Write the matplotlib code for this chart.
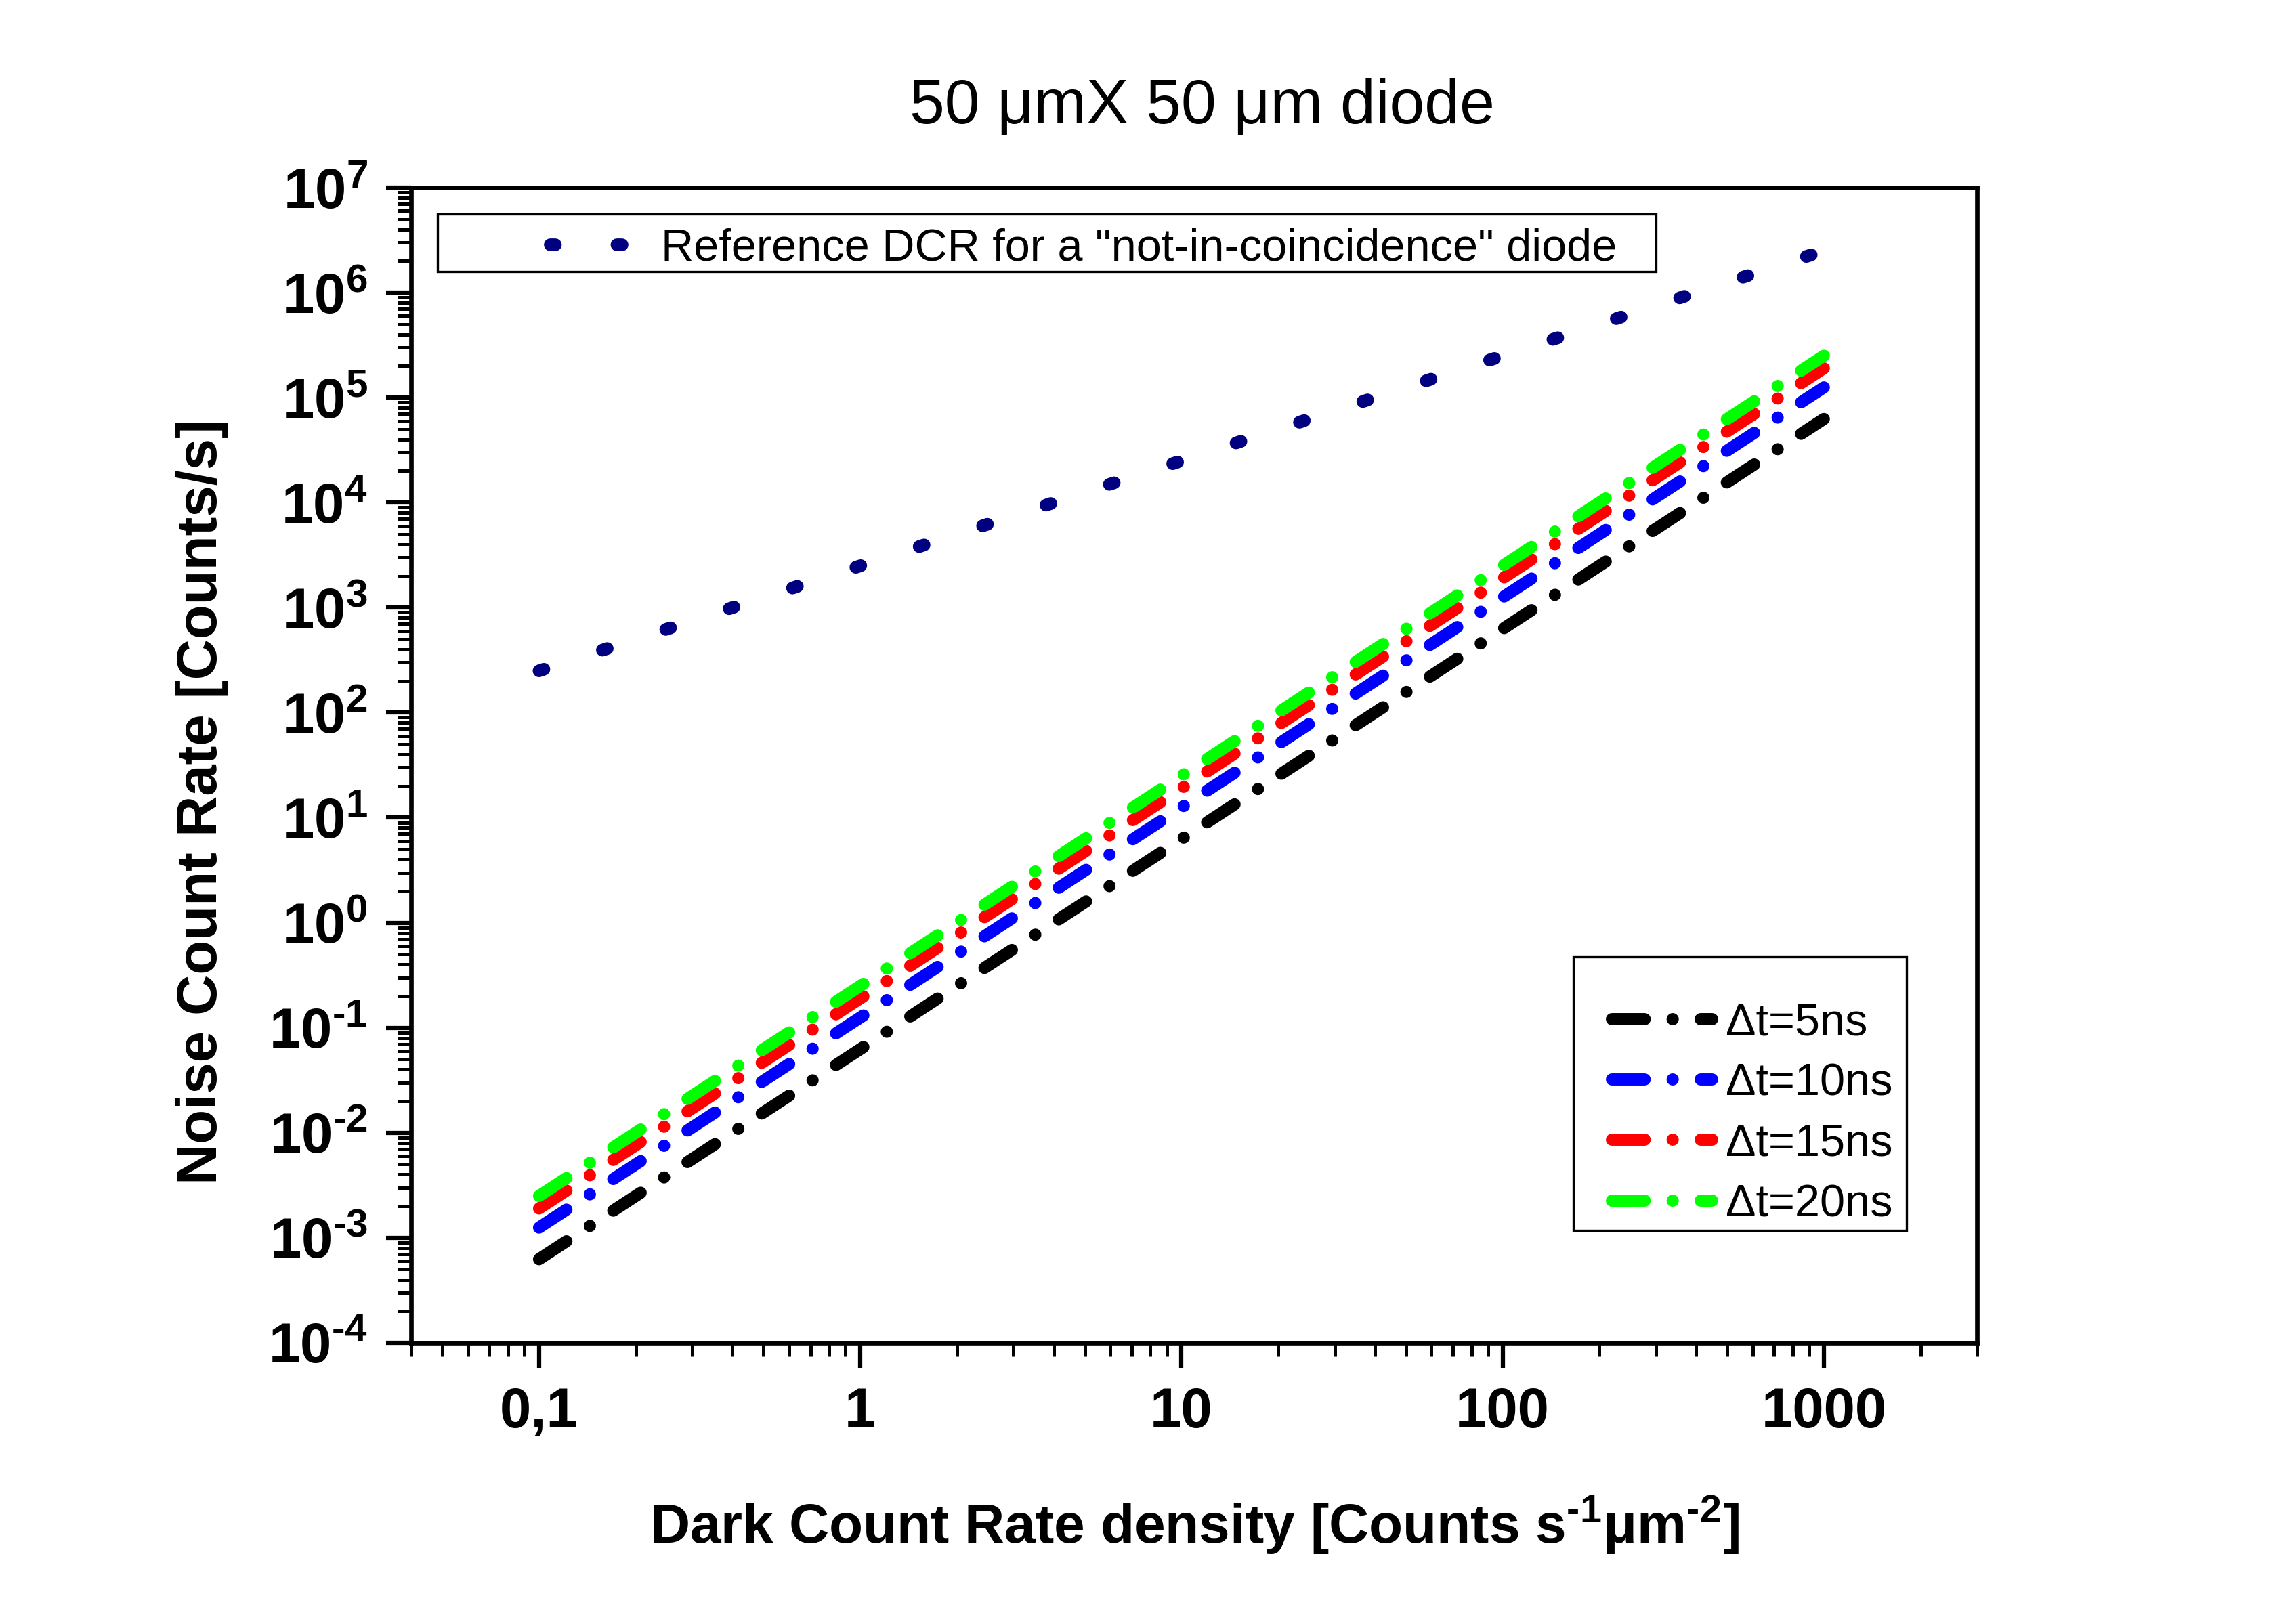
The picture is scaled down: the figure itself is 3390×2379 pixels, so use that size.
import numpy as np
import matplotlib
matplotlib.use('Agg')
import matplotlib.pyplot as plt
from matplotlib.ticker import LogLocator, NullFormatter
from matplotlib.patches import Rectangle

plt.rcParams['font.family'] = ['Liberation Sans', 'DejaVu Sans']
plt.rcParams['mathtext.fontset'] = 'custom'
plt.rcParams['mathtext.rm'] = 'Liberation Sans:bold'
plt.rcParams['mathtext.bf'] = 'Liberation Sans:bold'
plt.rcParams['mathtext.it'] = 'Liberation Sans:italic'

# dark count rate density [counts s^-1 um^-2]
dcr = [0.1, 1, 10, 100, 1000]
# reference DCR for a 50x50 um diode
ref = [250, 2500, 25000, 250000, 2500000]
# coincidence noise rates for each window
dt5 = [6.25e-4, 6.25e-2, 6.25, 625, 62500]
dt10 = [1.25e-3, 1.25e-1, 12.5, 1250, 125000]
dt15 = [1.9e-3, 1.9e-1, 19, 1900, 190000]
dt20 = [2.5e-3, 2.5e-1, 25, 2500, 250000]
series = [dt5, dt10, dt15, dt20]
labels = ['\u0394t=5ns', '\u0394t=10ns', '\u0394t=15ns', '\u0394t=20ns']
colors = ['#000000', '#0000ff', '#ff0000', '#00ff00']
xticks = [0.1, 1, 10, 100, 1000]
xticklabels = ['0,1', '1', '10', '100', '1000']
yexp = list(range(-4, 8))

def sup(e):
    # short hyphen instead of the long mathtext minus
    return (r'\text{-}%d' % -e) if e < 0 else '%d' % e

fig = plt.figure(figsize=(11.3, 7.93), dpi=300)
ax = fig.add_axes([0.1791, 0.1665, 0.682, 0.7171])

ref_line, = ax.plot(dcr, ref, color='#000080', lw=4.5, linestyle=(0, (0.4, 4.85)),
                    dash_capstyle='round', label='Reference DCR for a "not-in-coincidence" diode')
hs = []
for y, lab, c in zip(series, labels, colors):
    h, = ax.plot(dcr, y, color=c, lw=4.3, linestyle=(0, (2.7, 2.3, 0.01, 2.3)),
                 dash_capstyle='round', label=lab)
    hs.append(h)

ax.set_xscale('log'); ax.set_yscale('log')
ax.set_xlim(0.04, 3000); ax.set_ylim(1e-4, 1e7)
ax.set_xticks(xticks); ax.set_xticklabels(xticklabels)
ax.xaxis.set_minor_locator(LogLocator(base=10, subs=np.arange(2, 10), numticks=100))
ax.xaxis.set_minor_formatter(NullFormatter())
ax.set_yticks([10.0**e for e in yexp])
ax.set_yticklabels([r'$\mathbf{10^{%s}}$' % sup(e) for e in yexp])
ax.yaxis.set_minor_locator(LogLocator(base=10, subs=np.arange(2, 10), numticks=100))
ax.yaxis.set_minor_formatter(NullFormatter())
ax.tick_params(which='major', direction='out', length=8.9, width=1.5, labelsize=20, pad=6.5,
               top=False, right=False)
ax.tick_params(which='minor', direction='out', length=4.8, width=1.2, top=False, right=False)
for t in ax.get_xticklabels() + ax.get_yticklabels():
    t.set_fontweight('bold')
for s in ax.spines.values():
    s.set_linewidth(1.6)

ax.set_title('50 \u03bcmX 50 \u03bcm diode', fontsize=22.4, pad=22.8, x=0.505)
ax.set_xlabel(r'Dark Count Rate density [Counts s$^{\text{-}1}$' + '\u03bc' + r'm$^{\text{-}2}$]',
              fontsize=19.7, fontweight='bold')
ax.xaxis.set_label_coords(0.5, -0.131)
ax.xaxis.label.set_va('top')
ax.set_ylabel('Noise Count Rate [Counts/s]', fontsize=20, fontweight='bold')
ax.yaxis.set_label_coords(-0.117, 0.468)

# legend frames drawn by hand
ax.add_patch(Rectangle((0.0169, 0.927), 0.795 - 0.0169, 0.05, transform=ax.transAxes,
                       fill=False, lw=0.8, color='black', zorder=5))
leg1 = ax.legend(handles=[ref_line], loc='center left', bbox_to_anchor=(0.0887, 0.947),
                 frameon=False, fontsize=16, borderpad=0, borderaxespad=0,
                 handlelength=1.77, handletextpad=0.69)
ax.add_artist(leg1)
ax.add_patch(Rectangle(((2323 - 607) / 2312, (1983 - 1817) / 1706), (2815 - 2323) / 2312,
                       (1817 - 1413) / 1706, transform=ax.transAxes,
                       fill=False, lw=0.8, color='black', zorder=5))
ax.legend(handles=hs, loc='center left', bbox_to_anchor=(0.767, 0.198),
          frameon=False, fontsize=16, borderpad=0, borderaxespad=0,
          handlelength=2.22, handletextpad=0.3, labelspacing=0.41)

fig.savefig('out.png', dpi=300)
